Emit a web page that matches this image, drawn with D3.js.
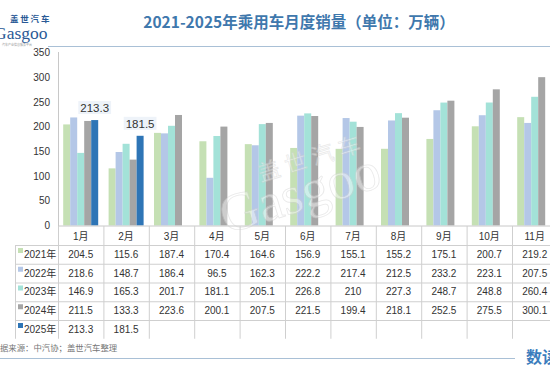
<!DOCTYPE html>
<html><head><meta charset="utf-8">
<script src="https://cdn.jsdelivr.net/npm/d3@7"></script>
<style>
html,body{margin:0;padding:0;background:#fff;overflow:hidden}
svg{display:block;font-family:Arial,"Liberation Sans","Noto Sans CJK SC",sans-serif}
</style></head>
<body>
<svg id="chart" width="550" height="378"></svg>
<script>
const months = ["1月","2月","3月","4月","5月","6月","7月","8月","9月","10月","11月"];
const years = ["2021年","2022年","2023年","2024年","2025年"];
const v2021 = [204.5,115.6,187.4,170.4,164.6,156.9,155.1,155.2,175.1,200.7,219.2];
const v2022 = [218.6,148.7,186.4,96.5,162.3,222.2,217.4,212.5,233.2,223.1,207.5];
const v2023 = [146.9,165.3,201.7,181.1,205.1,226.8,210,227.3,248.7,248.8,260.4];
const v2024 = [211.5,133.3,223.6,200.1,207.5,221.5,199.4,218.1,252.5,275.5,300.1];
const v2025 = [213.3,181.5];
const yTicks = [0,50,100,150,200,250,300,350];
const colors = ["#c5e0b4","#b4c7e7","#a3e2d8","#a5a5a5","#2e75b6"];
const seriesVals = [v2021,v2022,v2023,v2024,v2025];

const svg = d3.select("#chart");
const left = 58, bw = 45.4;
const x0 = d3.scaleBand().domain(months).range([left, left + bw*months.length]).padding(0);
const x1 = d3.scaleBand().domain(years).range([5.2, 40.2]).padding(0);
const y = d3.scaleLinear().domain([0,350]).range([225.5,52.5]);

// header
svg.append("text").attr("x",299).attr("y",28).attr("text-anchor","middle")
  .attr("font-family","'Noto Sans CJK SC',sans-serif").attr("font-weight","bold")
  .attr("font-size",15.5).attr("fill","#3f78ad").text("2021-2025年乘用车月度销量（单位：万辆）");
svg.append("line").attr("x1",48).attr("x2",550).attr("y1",46.5).attr("y2",46.5)
  .attr("stroke","#a9c0d6").attr("stroke-width",1);
// logo
svg.append("text").attr("x",10).attr("y",21.5).attr("font-family","'Noto Sans CJK SC',sans-serif")
  .attr("font-weight","bold").attr("font-size",8.5).attr("letter-spacing",1.8).attr("fill","#2a5a96").text("盖世汽车");
svg.append("text").attr("x",-6).attr("y",39).attr("font-family","'Liberation Serif',serif")
  .attr("font-size",17.5).attr("fill","#2a5a96").text("Gasgoo");
svg.append("text").attr("x",2).attr("y",46).attr("font-family","'Noto Sans CJK SC',sans-serif")
  .attr("font-size",3).attr("fill","#999").text("汽车产业信息服务平台");

// y axis
const yAxis = svg.append("g").attr("transform",`translate(${left},0)`)
  .call(d3.axisLeft(y).tickValues(yTicks).tickSize(0).tickPadding(8));
yAxis.select(".domain").attr("stroke","#c8c8c8");
yAxis.selectAll("text").attr("font-size",10).attr("fill","#333").attr("font-family","Arial,'Liberation Sans',sans-serif");
svg.append("line").attr("x1",left+0.5).attr("x2",left+0.5).attr("y1",52).attr("y2",226).attr("stroke","#c8c8c8");

// bars
seriesVals.forEach((vals,si)=>{
  svg.append("g").selectAll("rect").data(vals).join("rect")
    .attr("x",(d,i)=>x0(months[i])+x1(years[si]))
    .attr("width",x1.bandwidth())
    .attr("y",d=>y(d)).attr("height",d=>y(0)-y(d))
    .attr("fill",colors[si]);
});

// watermark
const wm = svg.append("g").attr("transform","translate(305,210) rotate(-17)").attr("opacity",0.45);
wm.append("text").attr("x",0).attr("y",0).attr("text-anchor","middle")
  .attr("font-family","'Liberation Serif',serif").attr("font-size",54)
  .attr("fill","#fff").attr("stroke","#d0d0d0").attr("stroke-width",0.8).text("Gasgoo");
wm.append("text").attr("x",22).attr("y",-40).attr("text-anchor","middle")
  .attr("font-family","'Noto Sans CJK SC',sans-serif").attr("font-size",22).attr("letter-spacing",6)
  .attr("fill","#fff").attr("stroke","#d0d0d0").attr("stroke-width",0.7).text("盖世汽车");

// data labels for 2025
v2025.forEach((d,i)=>{
  const cx = x0(months[i]) + x1(years[4]) + x1.bandwidth()/2;
  const ty = y(d) - 8;
  const t = svg.append("text").attr("x",cx).attr("y",ty).attr("text-anchor","middle")
    .attr("font-size",11.5).attr("fill","#333").text(d.toFixed(1));
  const bb = t.node().getBBox();
  svg.insert("rect", () => t.node()).attr("x",bb.x-2).attr("y",bb.y-1).attr("width",bb.width+4).attr("height",bb.height+1)
    .attr("fill","#eef3f9");
});

// x axis line
svg.append("line").attr("x1",left).attr("x2",550).attr("y1",226).attr("y2",226).attr("stroke","#c8c8c8");

// data table
const rowTop = 245, rowH = 18.75, tableLeft = 15;
const grid = svg.append("g").attr("stroke","#cfcfcf").attr("stroke-width",1);
months.forEach(m=>{
  grid.append("line").attr("x1",x0(m)+bw+0.5).attr("x2",x0(m)+bw+0.5).attr("y1",226).attr("y2",rowTop+rowH*5);
});
grid.append("line").attr("x1",left+0.5).attr("x2",left+0.5).attr("y1",226).attr("y2",rowTop+rowH*5);
grid.append("line").attr("x1",tableLeft+0.5).attr("x2",tableLeft+0.5).attr("y1",rowTop).attr("y2",rowTop+rowH*5);
for(let r=0;r<5;r++){
  grid.append("line").attr("x1",tableLeft).attr("x2",550).attr("y1",rowTop+r*rowH+0.5).attr("y2",rowTop+r*rowH+0.5);
}
svg.append("g").selectAll("text").data(months).join("text")
  .attr("x",d=>x0(d)+bw/2).attr("y",239.5).attr("text-anchor","middle")
  .attr("font-size",10).attr("fill","#333").text(d=>d);
years.forEach((yr,si)=>{
  const cy = rowTop + si*rowH + rowH/2 + 3.5;
  svg.append("rect").attr("x",18).attr("y",rowTop+si*rowH+3).attr("width",5).attr("height",5).attr("fill",colors[si]);
  svg.append("text").attr("x",24).attr("y",cy).attr("font-size",10).attr("fill","#333").text(yr);
  svg.append("g").selectAll("text").data(seriesVals[si]).join("text")
    .attr("x",(d,i)=>x0(months[i])+bw/2).attr("y",cy).attr("text-anchor","middle")
    .attr("font-size",10).attr("fill","#333").text(d=>String(d));
});

// footer
svg.append("text").attr("x",-8.4).attr("y",351).attr("font-family","'Noto Sans CJK SC',sans-serif")
  .attr("font-size",8.4).attr("fill","#777").text("数据来源：中汽协；盖世汽车整理");
svg.append("line").attr("x1",0).attr("x2",515).attr("y1",358.5).attr("y2",358.5).attr("stroke","#a9c0d6");
svg.append("text").attr("x",526).attr("y",363).attr("font-family","'Noto Sans CJK SC',sans-serif")
  .attr("font-weight","bold").attr("font-size",16).attr("fill","#3b7dbd").text("数读");
</script>
</body></html>
